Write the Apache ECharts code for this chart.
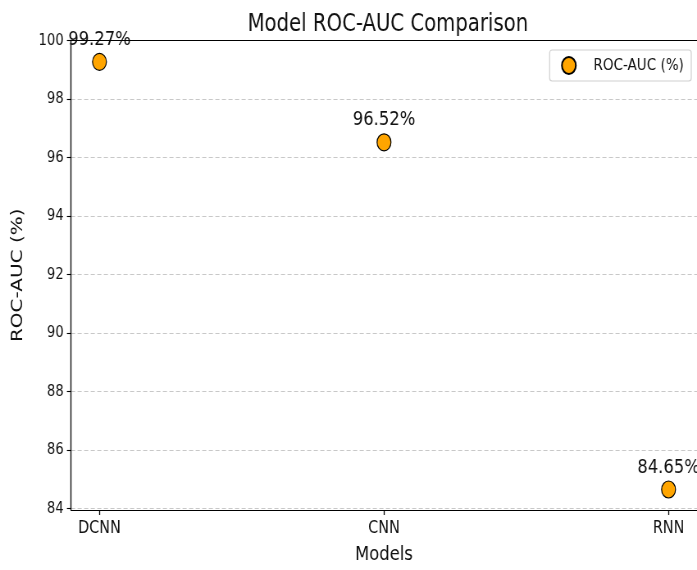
<!DOCTYPE html>
<html>
<head>
<meta charset="utf-8">
<script src="https://cdn.jsdelivr.net/npm/echarts@6/dist/echarts.min.js"></script>
<style>
  html, body { margin: 0; padding: 0; background: #fff; overflow: hidden; width: 697px; height: 570px; }
  #wrap { width: 697px; height: 570px; overflow: hidden; position: relative; }
  #chart { width: 850px; height: 570px; transform: scaleX(0.82); transform-origin: 0 0; position: absolute; left: 0; top: 0; }
</style>
</head>
<body>
<div id="wrap"><div id="chart"></div></div>
<script>
// Data
const categories = ['DCNN', 'CNN', 'RNN'];
const rocAuc = [99.27, 96.52, 84.65];
const yTicks = [84, 86, 88, 90, 92, 94, 96, 98, 100];
const seriesName = 'ROC-AUC (%)';

const FONT = 'DejaVu Sans';
const TXT = '#111';

const chart = echarts.init(document.getElementById('chart'), null, { renderer: 'canvas' });

chart.setOption({
  animation: false,
  backgroundColor: '#fff',
  title: {
    text: 'Model ROC-AUC Comparison',
    left: 468, textAlign: 'center',
    top: 8,
    textStyle: { fontFamily: FONT, fontSize: 24, fontWeight: 'normal', color: TXT }
  },
  legend: {
    data: [seriesName],
    right: 7, top: 50,
    orient: 'vertical',
    itemWidth: 26, itemHeight: 17,
    padding: [6, 9, 6, 14],
    backgroundColor: '#fff',
    borderColor: '#d0d0d0', borderWidth: 1.2, borderRadius: 3,
    textStyle: { fontFamily: FONT, fontSize: 16.5, color: TXT, padding: [0, 0, 0, 12] }
  },
  grid: {
    left: 86.6, right: -1, top: 40.5, bottom: 60,
    show: false,
    containLabel: false
  },
  xAxis: [{
    type: 'value',
    min: -0.1, max: 2.1,
    name: 'Models', nameLocation: 'middle', nameGap: 35,
    nameTextStyle: { fontFamily: FONT, fontSize: 20, color: TXT },
    axisLine: { show: true, onZero: false, lineStyle: { color: '#000', width: 1.1 } },
    axisTick: { show: true, customValues: [0, 1, 2], length: 5, lineStyle: { color: '#000', width: 1.3 } },
    axisLabel: {
      customValues: [0, 1, 2], margin: 9,
      formatter: v => categories[Math.round(v)] || '',
      fontFamily: FONT, fontSize: 17.5, color: TXT
    },
    splitLine: { show: false }
  }, {
    type: 'value',
    position: 'top',
    min: -0.1, max: 2.1,
    axisLine: { show: true, onZero: false, lineStyle: { color: '#000', width: 1.1 } },
    axisTick: { show: false },
    axisLabel: { show: false },
    splitLine: { show: false },
    z: 10
  }],
  yAxis: {
    type: 'value',
    min: 83.95, max: 100,
    name: 'ROC-AUC (%)', nameLocation: 'middle', nameGap: 55,
    nameTextStyle: { fontFamily: FONT, fontSize: 20, color: TXT },
    axisLine: { show: true, onZero: false, lineStyle: { color: '#000', width: 1.35 } },
    axisTick: { show: true, customValues: yTicks, length: 5, lineStyle: { color: '#000', width: 1.1 } },
    axisLabel: { customValues: yTicks, margin: 9, fontFamily: FONT, fontSize: 16, color: TXT },
    splitLine: { show: true, lineStyle: { color: '#c8c8c8', type: [5, 3], width: 1 } }
  },
  series: [{
    name: seriesName,
    type: 'scatter',
    xAxisIndex: 0,
    data: rocAuc.map((v, i) => [i, v]),
    symbol: 'circle',
    symbolSize: 17,
    itemStyle: { color: '#FFA500', borderColor: '#000', borderWidth: 1.2, opacity: 1 },
    label: {
      show: true, position: 'top', distance: 3,
      formatter: p => p.value[1].toFixed(2) + '%',
      fontFamily: FONT, fontSize: 20, color: TXT
    },
    z: 5
  }]
});
</script>
</body>
</html>
